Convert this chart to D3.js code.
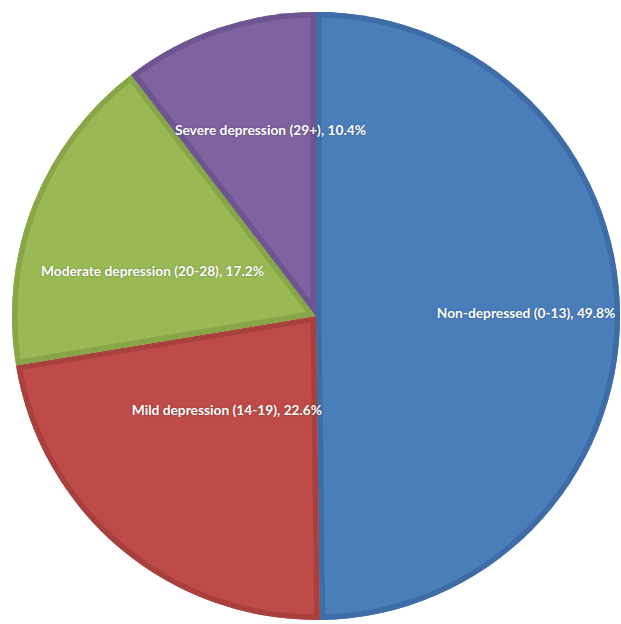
<!DOCTYPE html>
<html><head><meta charset="utf-8">
<script src="https://cdn.jsdelivr.net/npm/d3@7"></script>
<style>
html,body{margin:0;padding:0;background:#fff;}
text{font-family:Lato,"Open Sans",sans-serif;font-weight:700;}
</style></head>
<body>
<svg id="chart" width="621" height="624"></svg>
<script>
const categories = ["Non-depressed (0-13)", "Mild depression (14-19)", "Moderate depression (20-28)", "Severe depression (29+)"];
const values = [49.8, 22.6, 17.2, 10.4];
const fills = ["#4a7ebb", "#be4b48", "#98b954", "#7f63a1"];
const borders = ["#3e6ca6", "#a8403d", "#87a647", "#6e5490"];
// label anchor offsets (in units of radius)
const labelOffsets = [[0.691, -0.013], [-0.293, 0.309], [-0.538, -0.151], [-0.150, -0.615]];

const W = 621, H = 624, cx = 316, cy = 316, r = 304;
const svg = d3.select("#chart");
const g = svg.append("g").attr("transform", `translate(${cx},${cy})`);

const pie = d3.pie().sort(null).value(d => d.v);
const data = pie(categories.map((c, i) => ({c, v: values[i], i})));
const arc = d3.arc().innerRadius(0).outerRadius(r);

const defs = svg.append("defs");
data.forEach((d, i) => {
  defs.append("clipPath").attr("id", "clip" + i)
    .append("path").attr("d", arc(d));
});

const slices = g.selectAll("g.slice").data(data).join("g").attr("class", "slice");
slices.append("path").attr("d", arc).attr("fill", (d, i) => fills[i]);
slices.append("path").attr("d", arc)
  .attr("fill", "none")
  .attr("stroke", (d, i) => borders[i])
  .attr("stroke-width", 11)
  .attr("stroke-linejoin", "miter")
  .attr("clip-path", (d, i) => `url(#clip${i})`);

g.selectAll("text.lbl").data(data).join("text")
  .attr("class", "lbl")
  .attr("x", (d, i) => labelOffsets[i][0] * r)
  .attr("y", (d, i) => labelOffsets[i][1] * r)
  .attr("text-anchor", "middle")
  .attr("dominant-baseline", "central")
  .attr("fill", "#fff")
  .attr("font-size", 13.75)
  .style("text-shadow", "0 0 2px rgba(0,0,0,0.35)")
  .text(d => `${d.data.c}, ${d3.format(".1f")(d.data.v)}%`);
</script>
</body></html>
